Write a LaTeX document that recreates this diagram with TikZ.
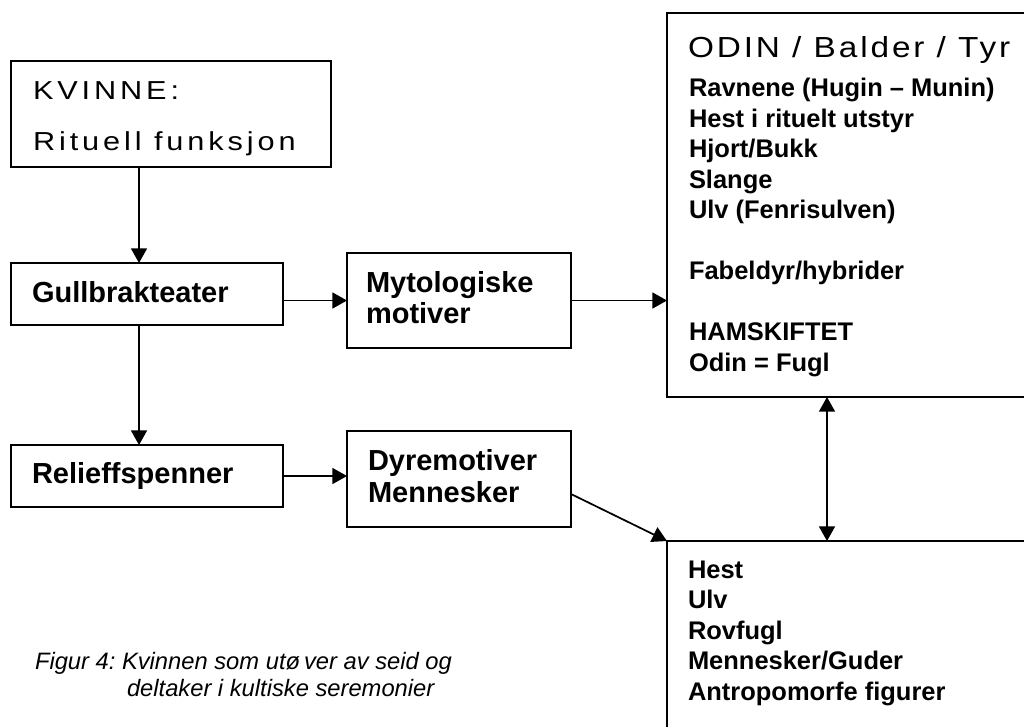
\documentclass[tikz,border=0pt]{standalone}
\usepackage{fontspec}
\setmainfont{Liberation Sans}
\newfontfamily\kvfont[LetterSpace=15,FakeStretch=1.18]{Liberation Sans}
\newfontfamily\odfont[LetterSpace=10,FakeStretch=1.15]{Liberation Sans}
\usetikzlibrary{arrows.meta}
\frenchspacing
\begin{document}
\begin{tikzpicture}[x=0.75pt,y=-0.75pt,
  box/.style={draw,line width=1.7pt,inner sep=0pt,outer sep=0pt,rectangle},
  txt/.style={anchor=base west,inner sep=0pt,outer sep=0pt},
  kvtxt/.style={txt,font=\kvfont\fontsize{19.5pt}{23pt}\selectfont},
  odtxt/.style={txt,font=\odfont\fontsize{21.75pt}{26pt}\selectfont},
  bigb/.style={txt,font=\fontsize{21.75pt}{26pt}\selectfont\bfseries},
  listb/.style={txt,font=\fontsize{19.1pt}{23pt}\selectfont\bfseries},
  captxt/.style={txt,font=\fontsize{17.8pt}{20pt}\selectfont\itshape},
  arr/.style={line width=1.3pt,-{Triangle[length=11pt,width=12pt]}},
  darr/.style={line width=1.3pt,{Triangle[length=11pt,width=12pt]}-{Triangle[length=11pt,width=12pt]}}]
\clip (0,0) rectangle (1024,726);
% boxes
\node[box,minimum width=240pt,minimum height=79.5pt] (kv) at (171,114) {};
\node[box,minimum width=204pt,minimum height=46.5pt] (gull) at (147,294) {};
\node[box,minimum width=204pt,minimum height=46.5pt] (rel) at (147,476) {};
\node[box,minimum width=168pt,minimum height=71.25pt] (myto) at (459,300.5) {};
\node[box,minimum width=168pt,minimum height=72pt] (dyre) at (459,479) {};
\node[box,minimum width=279.75pt,minimum height=288pt] (odin) at (853.5,205) {};
\node[box,minimum width=279.75pt,minimum height=149.25pt] (bot) at (853.5,640.5) {};
% texts
\node[kvtxt] (t1) at (33,99) {KVINNE:};
\node[kvtxt] (t2) at (33,150) {Rituell funksjon};
\node[bigb] (t3) at (32,302) {Gullbrakteater};
\node[bigb] (t4) at (32,483) {Relieffspenner};
\node[bigb] (t5) at (366,292) {Mytologiske};
\node[bigb] (t6) at (366,323) {motiver};
\node[bigb] (t7) at (368,470) {Dyremotiver};
\node[bigb] (t8) at (368,502) {Mennesker};
\node[odtxt] (o0) at (688,57) {ODIN / Balder / Tyr};
\node[listb] (o1) at (689,96.5) {Ravnene (Hugin – Munin)};
\node[listb] (o2) at (689,127) {Hest i rituelt utstyr};
\node[listb] (o3) at (689,157.5) {Hjort/Bukk};
\node[listb] (o4) at (689,188) {Slange};
\node[listb] (o5) at (689,218.5) {Ulv (Fenrisulven)};
\node[listb] (o6) at (689,279.5) {Fabeldyr/hybrider};
\node[listb] (o7) at (689,340.5) {HAMSKIFTET};
\node[listb] (o8) at (689,371) {Odin = Fugl};
\node[listb] (b1) at (688,578) {Hest};
\node[listb] (b2) at (688,608.5) {Ulv};
\node[listb] (b3) at (688,639) {Rovfugl};
\node[listb] (b4) at (688,669.5) {Mennesker/Guder};
\node[listb] (b5) at (688,700) {Antropomorfe figurer};
\node[captxt] (c1) at (35,669) {Figur 4: Kvinnen som utø\kern3pt ver av seid og};
\node[captxt] (c2) at (127,696) {deltaker i kultiske seremonier};
% connectors
\coordinate (ax) at (139,0);
\coordinate (dx) at (827,0);
\draw[arr] (kv.south -| ax) -- (gull.north -| ax);
\draw[arr] (gull.south -| ax) -- (rel.north -| ax);
\draw[arr] (gull.east |- myto.west) -- (myto.west);
\draw[arr] (myto.east) -- (myto.east -| odin.west);
\draw[arr] (rel.east) -- (rel.east -| dyre.west);
\draw[arr] ([yshift=-11.25pt]dyre.east) -- (bot.north west);
\draw[darr] (odin.south -| dx) -- (bot.north -| dx);
\end{tikzpicture}
\end{document}
